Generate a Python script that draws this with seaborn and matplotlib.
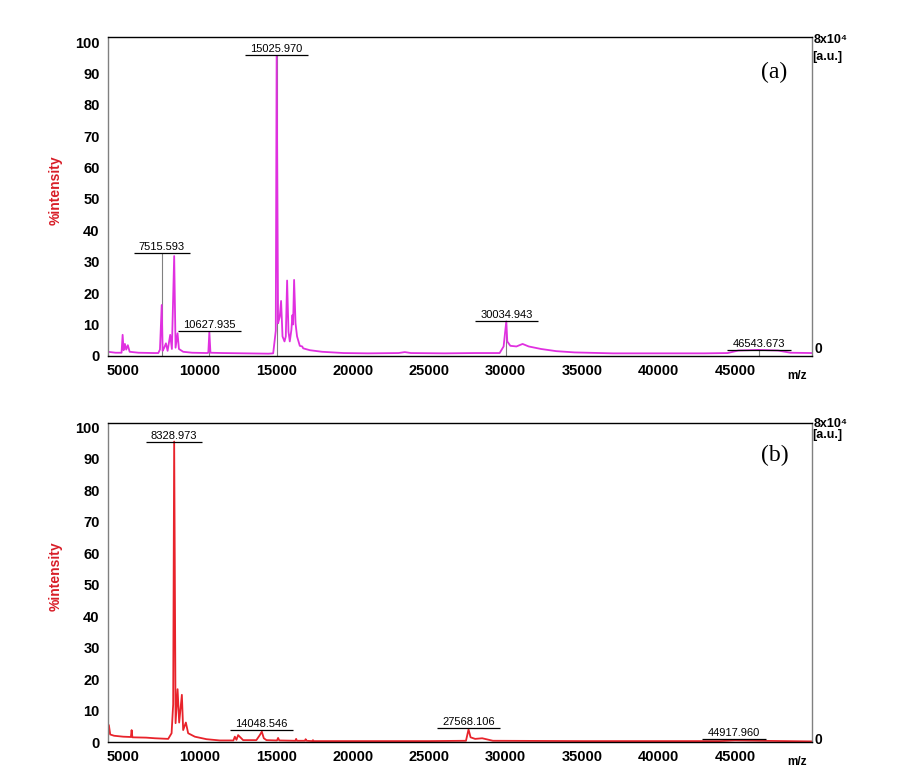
import numpy as np
import pandas as pd
import matplotlib
matplotlib.use("Agg")
import matplotlib.pyplot as plt
from matplotlib.ticker import MultipleLocator
import seaborn as sns

# ---------------- data ----------------
top_mz = [4000, 4500, 4890, 4960, 5025, 5110, 5195, 5300, 5420, 6000, 7000, 7290,
          7400, 7515, 7575, 7680, 7790, 7900, 8070, 8180, 8330, 8420, 8550, 8640,
          8920, 9500, 10500, 10560, 10628, 10700, 11500, 13000, 14500, 14800, 14970,
          15026, 15120, 15230, 15317, 15410, 15540, 15625, 15710, 15800, 15885, 15990,
          16060, 16100, 16167, 16260, 16360, 16540, 16700, 16760, 17200, 18000, 19400,
          21000, 23000, 23400, 23800, 26000, 28000, 29600, 29860, 30035, 30100, 30300,
          30700, 31100, 31500, 32300, 33300, 34500, 37000, 40000, 43000, 44500, 45200,
          46500, 47800, 48600, 50000]
top_int = [1.3, 1.0, 1.0, 6.7, 1.8, 3.8, 2.0, 3.4, 1.3, 1.0, 0.9, 0.9,
           2.0, 16.2, 1.6, 2.6, 4.0, 1.6, 6.7, 2.2, 31.8, 2.6, 7.2, 2.2,
           1.3, 1.0, 0.9, 1.0, 7.5, 1.0, 0.9, 0.8, 0.7, 0.8, 8.0,
           95.5, 10.4, 12.5, 17.5, 6.2, 4.6, 6.2, 24.0, 7.7, 4.6, 8.3,
           13.0, 10.0, 24.2, 10.4, 6.2, 3.2, 3.0, 2.4, 1.8, 1.3, 0.9,
           0.8, 0.9, 1.2, 0.9, 0.8, 0.9, 0.9, 3.0, 11.0, 4.6, 3.2,
           3.0, 3.8, 3.0, 2.2, 1.5, 1.1, 0.8, 0.8, 0.8, 0.9, 1.7,
           1.9, 1.7, 1.0, 0.9]

bot_mz = [4000, 4060, 4150, 4400, 5000, 5500, 5548, 5600, 6500, 7069, 7938, 8160,
          8264, 8329, 8421, 8552, 8656, 8832, 8917, 9093, 9243, 9680, 10445, 11314,
          12200, 12293, 12400, 12510, 12837, 13700, 13926, 14057, 14188, 14362, 15050,
          15121, 15200, 16250, 16300, 16350, 16880, 16920, 16980, 17350, 17400, 17450,
          20000, 25000, 27400, 27568, 27700, 28000, 28460, 29160, 35000, 44000, 45000,
          46500, 50000]
bot_int = [1.5, 5.4, 2.4, 2.0, 1.7, 1.6, 3.8, 1.5, 1.4, 1.2, 1.0, 2.8,
           12.0, 95.5, 6.0, 16.8, 6.2, 15.0, 3.8, 6.2, 2.8, 1.7, 0.9, 0.5,
           0.5, 1.7, 0.7, 2.2, 0.6, 0.6, 2.2, 3.3, 1.2, 0.6, 0.5,
           1.3, 0.5, 0.4, 1.0, 0.4, 0.4, 0.9, 0.4, 0.3, 0.6, 0.3,
           0.3, 0.3, 0.4, 4.0, 1.5, 1.0, 1.2, 0.4, 0.3, 0.3, 0.5,
           0.4, 0.2]

top_label_mz = [7515.593, 10627.935, 15025.970, 30034.943, 46543.673]
top_label_text = ["7515.593", "10627.935", "15025.970", "30034.943", "46543.673"]
top_label_y = [32.8, 8.0, 95.9, 11.1, 1.9]

bot_label_mz = [8328.973, 14048.546, 27568.106, 44917.960]
bot_label_text = ["8328.973", "14048.546", "27568.106", "44917.960"]
bot_label_y = [95.5, 3.8, 4.5, 1.0]

x_ticks = [5000, 10000, 15000, 20000, 25000, 30000, 35000, 40000, 45000]
y_ticks = [0, 10, 20, 30, 40, 50, 60, 70, 80, 90, 100]

# ---------------- style ----------------
sns.set_style("white")
plt.rcParams['font.family'] = ['Liberation Sans', 'DejaVu Sans']
plt.rcParams['text.color'] = 'black'
plt.rcParams['xtick.color'] = 'black'
plt.rcParams['ytick.color'] = 'black'
plt.rcParams['axes.labelcolor'] = 'black'

fig = plt.figure(figsize=(9.07, 7.77), dpi=100)
ax_top = fig.add_axes([0.119, 0.542, 0.776, 0.410])
ax_bot = fig.add_axes([0.119, 0.045, 0.776, 0.411])

panels = [
    (ax_top, top_mz, top_int, "#e030e0", top_label_mz, top_label_text, top_label_y,
     "(a)", True, [0.99, 0.937]),
    (ax_bot, bot_mz, bot_int, "#e8232b", bot_label_mz, bot_label_text, bot_label_y,
     "(b)", False, [0.997, 0.962]),
]

for ax, mz, inten, col, lmz, ltxt, ly, tag, vmark, rpos in panels:
    df = pd.DataFrame({"mz": mz, "intensity": inten})
    if vmark:
        ax.vlines(lmz, 0, ly, color="#808080", lw=0.8, zorder=1)
    sns.lineplot(data=df, x="mz", y="intensity", ax=ax, color=col, lw=1.3,
                 estimator=None, sort=False, zorder=2)
    for m, t, yv in zip(lmz, ltxt, ly):
        hw = 230 * len(t)
        ax.hlines(yv, m - hw, m + hw, color="black", lw=0.9, zorder=3)
        ax.text(m, yv + 0.3, t, ha="center", va="bottom", fontsize=8, color="black",
                zorder=4)

    ax.set_xlim(4000, 50000)
    ax.set_ylim(0, 101.5)
    ax.set_xticks(x_ticks)
    ax.set_xticklabels([str(v) for v in x_ticks], fontweight="bold", fontsize=10.5)
    ax.set_yticks(y_ticks)
    ax.set_yticklabels([str(v) for v in y_ticks], fontweight="bold", fontsize=10.5)
    ax.xaxis.set_minor_locator(MultipleLocator(1000))
    ax.tick_params(axis="x", which="major", direction="out", length=4, width=0.8,
                   pad=2, colors="black")
    ax.tick_params(axis="x", which="minor", direction="out", length=3, width=0.8,
                   colors="black")
    ax.tick_params(axis="y", length=0, pad=6, colors="black")
    ax.set_xlabel("")
    ax.set_ylabel("%intensity", color="#d81e28", fontweight="bold", fontsize=10)
    ax.yaxis.set_label_coords(-0.065, 0.52)

    for side in ["top", "bottom"]:
        ax.spines[side].set_color("black")
        ax.spines[side].set_linewidth(1.0)
    for side in ["left", "right"]:
        ax.spines[side].set_color("#808080")
        ax.spines[side].set_linewidth(1.0)
        ax.spines[side].set_visible(True)

    ax.text(0.947, 0.89 if tag == "(a)" else 0.897, tag, transform=ax.transAxes,
            ha="center", va="center", fontsize=17, family="Liberation Serif")
    ax.text(1.003, rpos[0], "8x10⁴", transform=ax.transAxes, ha="left", va="center",
            fontsize=9, fontweight="bold")
    ax.text(1.001, rpos[1], "[a.u.]", transform=ax.transAxes, ha="left", va="center",
            fontsize=9, fontweight="bold")
    ax.text(1.004, 0.02 if tag == "(a)" else 0.005, "0", transform=ax.transAxes,
            ha="left", va="center", fontsize=10, fontweight="bold")
    ax.text(0.979, -0.062, "m/z", transform=ax.transAxes, ha="center", va="center",
            fontsize=8.5, fontweight="bold")

fig.savefig("out.png", dpi=100)
